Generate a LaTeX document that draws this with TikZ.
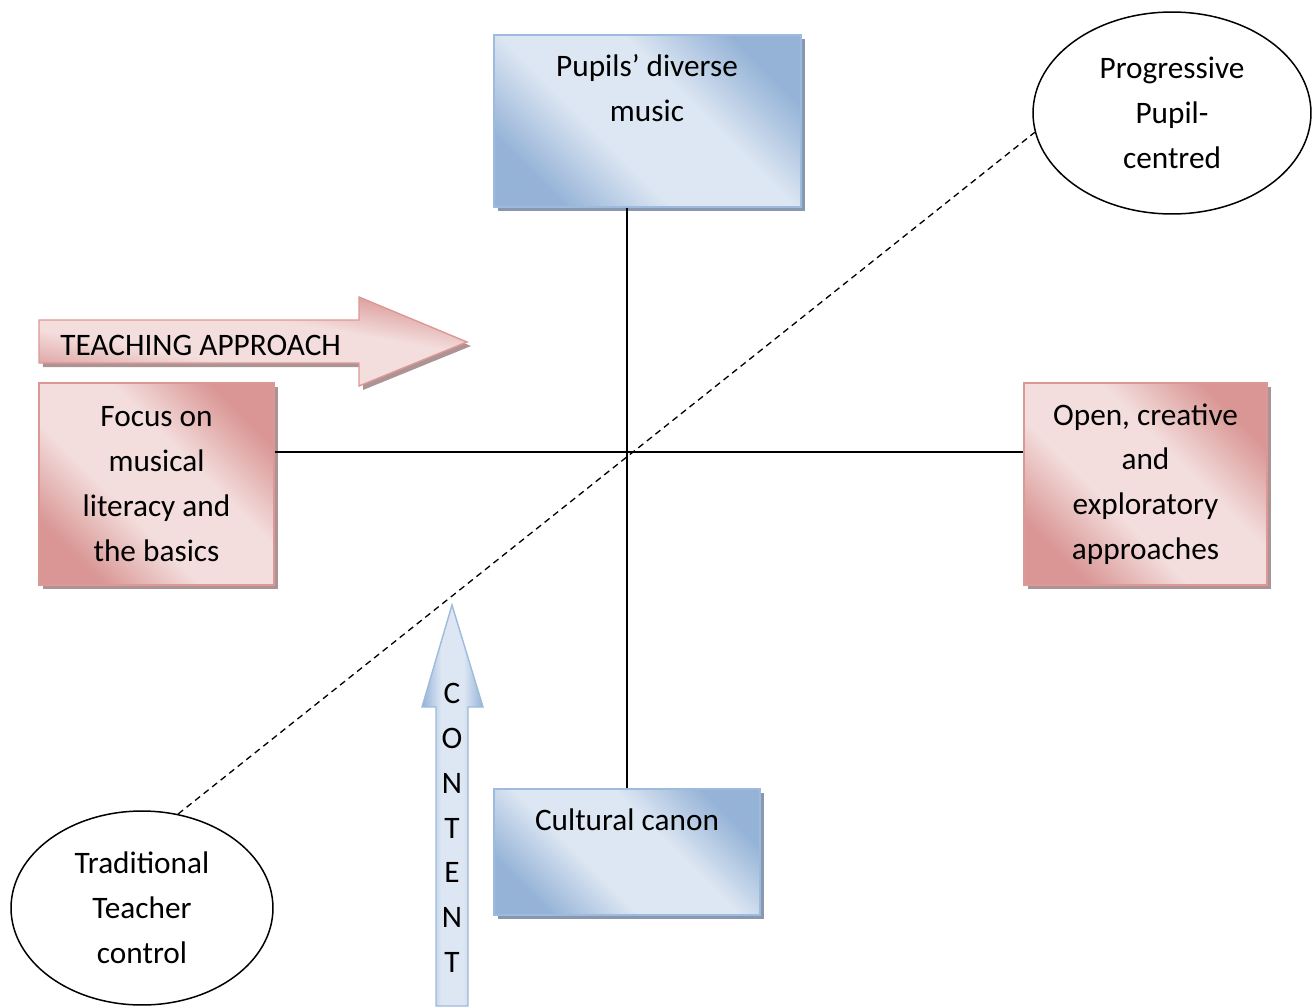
\documentclass[tikz,border=0pt]{standalone}
\usepackage{fontspec}
\setmainfont{Carlito}
\usepackage{tikz}
\usetikzlibrary{shapes.geometric, shadows}
\definecolor{bdark}{RGB}{149,179,215}
\definecolor{blight}{RGB}{221,231,243}
\definecolor{bline}{RGB}{158,186,220}
\definecolor{bshadow}{RGB}{136,152,176}
\definecolor{pdark}{RGB}{217,150,148}
\definecolor{plight}{RGB}{243,222,221}
\definecolor{pline}{RGB}{219,152,150}
\definecolor{pshadow}{RGB}{172,148,148}
\pgfdeclarehorizontalshading{blueband}{100bp}{color(0bp)=(bdark); color(25bp)=(bdark); color(41bp)=(blight); color(59bp)=(blight); color(75bp)=(bdark); color(100bp)=(bdark)}
\pgfdeclarehorizontalshading{pinkband}{100bp}{color(0bp)=(pdark); color(25bp)=(pdark); color(41bp)=(plight); color(59bp)=(plight); color(75bp)=(pdark); color(100bp)=(pdark)}

\begin{document}
\begin{tikzpicture}[x=0.02cm, y=-0.02cm,
    font=\fontsize{17.8}{25.5}\selectfont,
    bluebox/.style={rectangle, draw=bline, line width=0.8pt, shade, shading=blueband, shading angle=45,
        drop shadow={shadow xshift=0.08cm, shadow yshift=-0.08cm, fill=bshadow, opacity=1}},
    pinkbox/.style={rectangle, draw=pline, line width=0.8pt, shade, shading=pinkband, shading angle=45,
        drop shadow={shadow xshift=0.08cm, shadow yshift=-0.08cm, fill=pshadow, opacity=1}},
    oval/.style={ellipse, draw, line width=0.85pt, align=center},
    axisline/.style={line width=0.9pt}]
    \useasboundingbox (0,0) rectangle (1314,1007);

    % Content axis
    \node[bluebox, minimum width=6.14cm, minimum height=3.44cm] (pupils) at (647.5,121) {};
    \node[align=center] (pupilslbl) at (647,88) {Pupils’ diverse\\music};
    \node[bluebox, minimum width=5.32cm, minimum height=2.52cm] (canon) at (627,852) {};
    \node (canonlbl) at (627,820) {Cultural canon};

    % Teaching approach axis
    \node[pinkbox, minimum width=4.7cm, minimum height=4.04cm, align=center] (focus) at (156.5,484) {Focus on\\musical\\literacy and\\the basics};
    \node[pinkbox, minimum width=4.86cm, minimum height=4.04cm, align=center] (open) at (1145.5,484) {Open, creative\\and\\exploratory\\approaches};

    % Ellipses
    \node[oval, minimum width=5.56cm, minimum height=4.04cm] (prog) at (1172,113) {Progressive\\Pupil-\\centred};
    \node[oval, minimum width=5.24cm, minimum height=3.88cm] (trad) at (142,908) {Traditional\\Teacher\\control};

    % Axes
    \coordinate (cross) at (627,452);
    \draw[axisline] (focus.east |- cross) -- (open.west |- cross);
    \draw[axisline] (pupils.south -| cross) -- (canon.north);
    \draw[line width=0.75pt, dash pattern=on 3.6pt off 2.6pt] (trad.69) -- (prog.188);

    % Big arrows
    \path[draw=pline, line width=0.8pt, shade, shading=pinkband, shading angle=80,
        drop shadow={shadow xshift=0.08cm, shadow yshift=-0.08cm, fill=pshadow, opacity=1}]
        (39,320) -- (359,320) -- (359,297) -- (467,342) -- (359,386) -- (359,363) -- (39,363) -- cycle;
    \node[anchor=base west, inner sep=0pt] (approach) at (60,355) {TEACHING APPROACH};
    \path[draw=bline, line width=0.8pt, shade, shading=blueband, shading angle=0]
        (436,1006) -- (436,707) -- (422,707) -- (452,605) -- (483,707) -- (468,707) -- (468,1006) -- cycle;
    \node[align=center, inner sep=0pt] (content) at (452,828) {C\\O\\N\\T\\E\\N\\T};
\end{tikzpicture}
\end{document}
